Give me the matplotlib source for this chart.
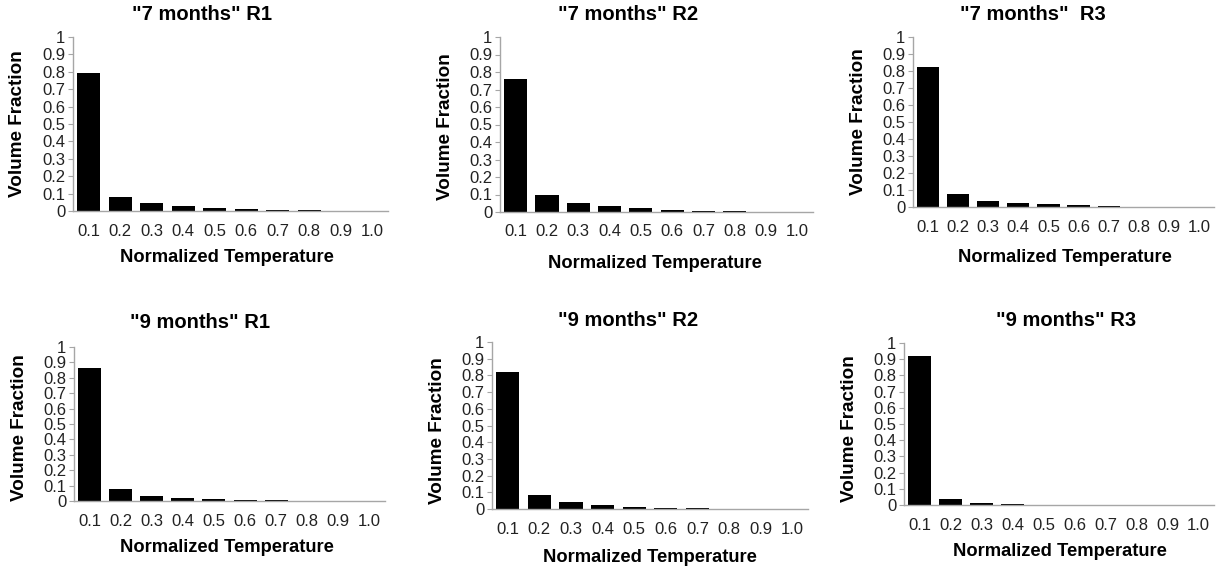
import matplotlib
matplotlib.use("Agg")
import matplotlib.pyplot as plt

plt.rcParams['font.family'] = ['Liberation Sans', 'DejaVu Sans']

categories = ["0.1", "0.2", "0.3", "0.4", "0.5", "0.6", "0.7", "0.8", "0.9", "1.0"]
yticks = [0, 0.1, 0.2, 0.3, 0.4, 0.5, 0.6, 0.7, 0.8, 0.9, 1.0]
ytick_labels = ["0", "0.1", "0.2", "0.3", "0.4", "0.5", "0.6", "0.7", "0.8", "0.9", "1"]

titles = ['"7 months" R1', '"7 months" R2', '"7 months"  R3',
          '"9 months" R1', '"9 months" R2', '"9 months" R3']

m7_r1 = [0.792, 0.083, 0.048, 0.027, 0.015, 0.012, 0.008, 0.004, 0.001, 0.0]
m7_r2 = [0.758, 0.095, 0.053, 0.034, 0.023, 0.013, 0.008, 0.003, 0.001, 0.0]
m7_r3 = [0.825, 0.078, 0.035, 0.023, 0.016, 0.010, 0.006, 0.002, 0.001, 0.0]
m9_r1 = [0.862, 0.078, 0.035, 0.022, 0.015, 0.009, 0.006, 0.002, 0.001, 0.0]
m9_r2 = [0.823, 0.084, 0.042, 0.022, 0.014, 0.008, 0.008, 0.001, 0.001, 0.0]
m9_r3 = [0.920, 0.039, 0.012, 0.006, 0.001, 0.001, 0.0, 0.0, 0.0, 0.0]
series = [m7_r1, m7_r2, m7_r3, m9_r1, m9_r2, m9_r3]

W, H = 1224, 572
fig = plt.figure(figsize=(W / 100, H / 100), dpi=100)

# layout in pixels: (left, right, top, bottom)
boxes = [(73, 388, 37, 211), (500, 813, 37, 212), (913, 1214, 37, 207),
         (74, 385, 347, 501), (492, 808, 342, 509), (904, 1214, 343, 505)]
title_pos = [(202, 15), (628, 15), (1033, 15), (200, 322), (628, 320), (1066, 320)]
xlabel_pos = [(227, 258), (655, 263), (1065, 257), (227, 548), (650, 558), (1060, 552)]
ylabel_pos = [(18, 124), (446, 127), (859, 122), (20, 428), (438, 431), (849, 429)]

spine_col = "#a6a6a6"
for i in range(6):
    l, r, t, b = boxes[i]
    ax = fig.add_axes([l / W, 1 - b / H, (r - l) / W, (b - t) / H])
    x = list(range(len(categories)))
    ax.bar(x, series[i], width=0.74, color="black")
    ax.set_xlim(-0.5, len(categories) - 0.5)
    ax.set_ylim(0, 1)
    ax.set_xticks(x)
    ax.set_xticklabels(categories, fontsize=12, color="#222222")
    ax.set_yticks(yticks)
    ax.set_yticklabels(ytick_labels, fontsize=12, color="#222222")
    ax.tick_params(axis='x', length=0, pad=9)
    ax.tick_params(axis='y', length=3.5, width=0.8, color=spine_col, pad=2)
    for s in ['top', 'right']:
        ax.spines[s].set_visible(False)
    for s in ['left', 'bottom']:
        ax.spines[s].set_color(spine_col)
        ax.spines[s].set_linewidth(1.0)
    tx, ty = title_pos[i]
    fig.text(tx / W, 1 - ty / H, titles[i], ha='center', va='center',
             fontsize=14.5, fontweight='bold')
    xx, xy = xlabel_pos[i]
    fig.text(xx / W, 1 - xy / H, "Normalized Temperature", ha='center', va='center',
             fontsize=13.2, fontweight='bold')
    yx, yy = ylabel_pos[i]
    fig.text(yx / W, 1 - yy / H, "Volume Fraction", ha='center', va='center',
             rotation=90, fontsize=13.6, fontweight='bold')

fig.savefig("out.png", dpi=100)
